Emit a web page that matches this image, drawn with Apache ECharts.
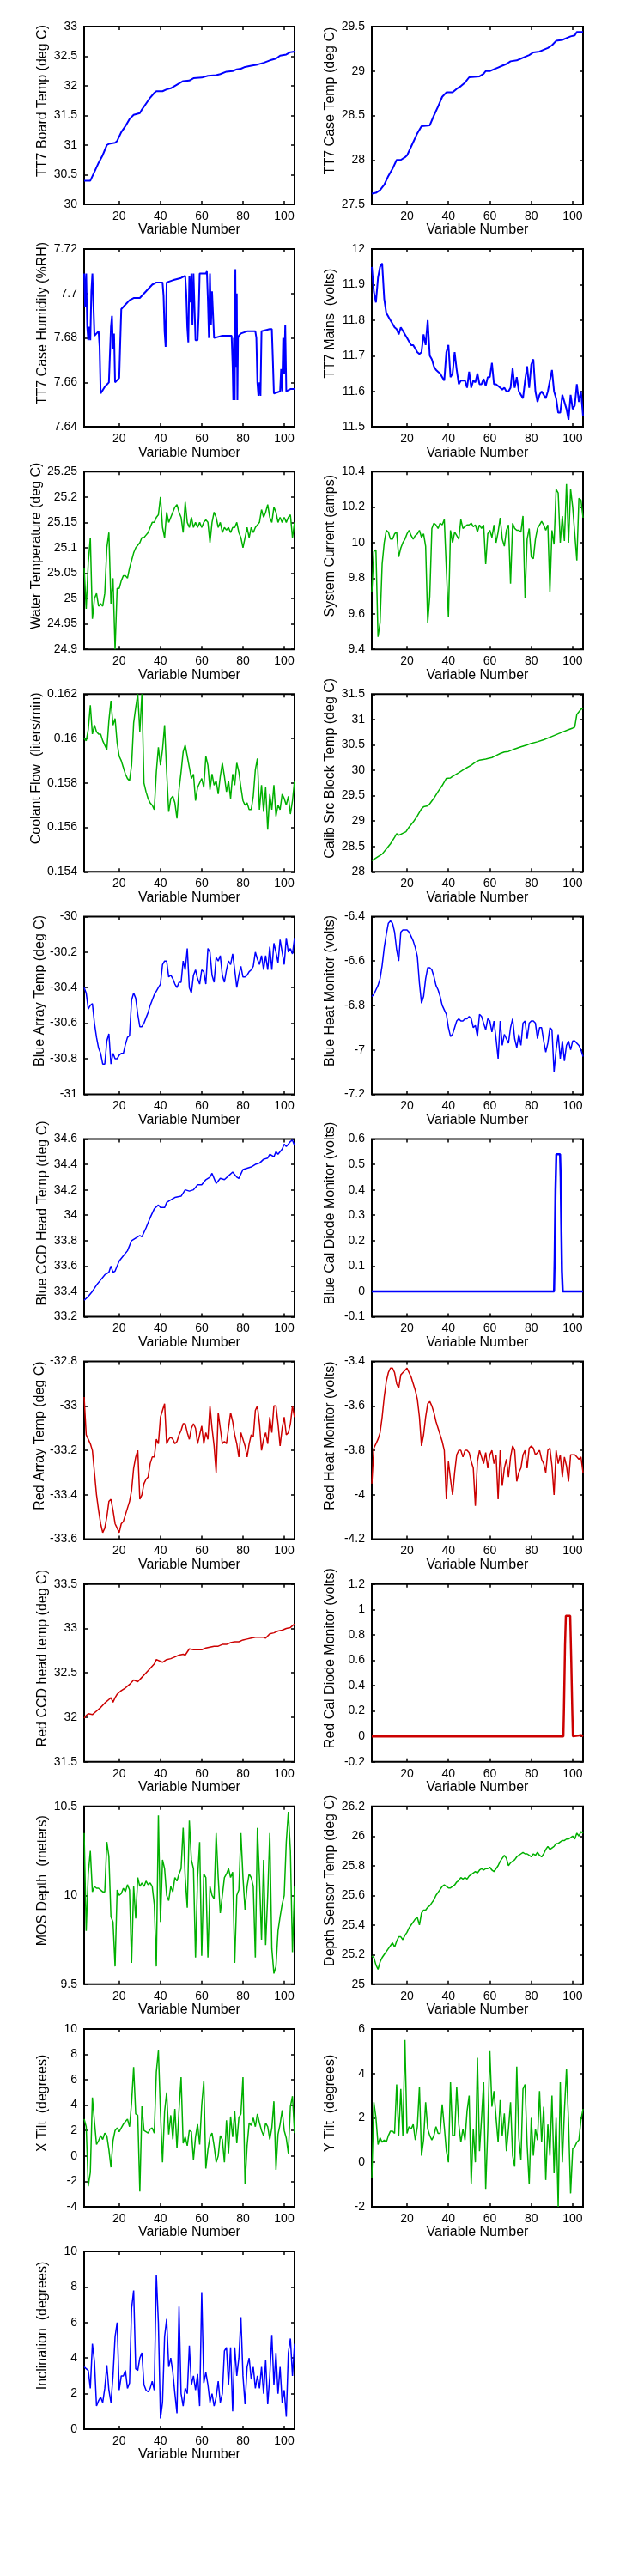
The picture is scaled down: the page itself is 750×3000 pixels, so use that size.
<!DOCTYPE html>
<html><head><meta charset="utf-8">
<script src="https://cdn.jsdelivr.net/npm/echarts@6/dist/echarts.min.js"></script>
<style>html,body{margin:0;padding:0;background:#fff}#c{width:750px;height:3000px}</style>
</head><body><div id="c"></div>
<script>
// ---------- shared ----------
const xTickValues = [20, 40, 60, 80, 100];
const stepX = Array.from({length: 103}, (_, i) => i + 3); // variable numbers 3..105

// ---------- data ----------
const boardTempX = [3,6,8,10,12,14,15,18,19,21,23,25,27,30,31,33,35,37,38,41,43,45,48,51,54,56,60,63,67,69,72,75,77,79,81,84,87,90,93,96,98,101,103,105];
const boardTempY = [30.4,30.4,30.55,30.7,30.83,31.0,31.02,31.04,31.07,31.22,31.32,31.44,31.51,31.54,31.6,31.7,31.8,31.88,31.91,31.91,31.94,31.96,32.02,32.08,32.09,32.13,32.14,32.17,32.18,32.2,32.24,32.25,32.28,32.29,32.32,32.34,32.36,32.39,32.43,32.46,32.51,32.53,32.57,32.58];

const caseTempX = [3,5,7,9,11,13,15,17,19,20,22,24,25,27,31,33,35,37,39,42,44,46,48,50,55,57,58,60,62,64,66,68,70,73,75,77,79,81,84,86,88,90,92,95,97,99,101,102,105];
const caseTempY = [27.62,27.63,27.66,27.72,27.82,27.9,28.0,28.0,28.03,28.05,28.15,28.25,28.3,28.38,28.39,28.5,28.6,28.71,28.76,28.76,28.8,28.83,28.87,28.93,28.94,28.97,29.0,29.0,29.02,29.04,29.06,29.08,29.11,29.12,29.14,29.16,29.18,29.21,29.22,29.24,29.26,29.29,29.34,29.35,29.37,29.39,29.4,29.44,29.44];

const humX = [3,3.5,4,4.5,5,5.5,6,6.5,7,7.5,8,9,10,10.5,11,13,15,15.5,16,16.5,17,17.5,18,20,20.5,21,23,25,27,30,33,36,38,41,41.5,42,42.5,43,46,50,52,52.5,53,53.5,54,54.5,55,55.5,56,57,58,58.5,59,62,62.5,63,63.5,64,64.5,65,66,70,74.5,75,75.3,75.6,76,76.3,76.6,77,77.3,77.6,78,79,82,86,86.5,87,87.5,88,88.5,89,93,94,94.5,95,98,98.5,99,99.5,100,100.5,101,103,105];
const humY = [7.709,7.694,7.709,7.685,7.679,7.685,7.679,7.701,7.709,7.695,7.681,7.682,7.683,7.676,7.655,7.658,7.66,7.66,7.685,7.69,7.675,7.682,7.66,7.662,7.678,7.693,7.695,7.697,7.698,7.698,7.701,7.704,7.705,7.705,7.699,7.683,7.676,7.705,7.706,7.707,7.708,7.7,7.685,7.678,7.708,7.696,7.709,7.686,7.709,7.679,7.679,7.69,7.709,7.709,7.71,7.697,7.68,7.709,7.686,7.701,7.68,7.681,7.681,7.667,7.652,7.68,7.652,7.711,7.667,7.7,7.652,7.68,7.681,7.682,7.683,7.683,7.68,7.66,7.654,7.66,7.654,7.683,7.684,7.684,7.67,7.655,7.656,7.666,7.656,7.68,7.664,7.686,7.656,7.657,7.657];

const mainsY = [11.95,11.88,11.85,11.92,11.95,11.96,11.86,11.82,11.81,11.8,
 11.79,11.78,11.775,11.76,11.78,11.77,11.76,11.75,11.74,11.73,
 11.73,11.72,11.71,11.705,11.71,11.76,11.73,11.80,11.70,11.69,
 11.67,11.66,11.655,11.65,11.64,11.63,11.71,11.73,11.64,11.65,
 11.71,11.66,11.62,11.63,11.63,11.63,11.61,11.655,11.61,11.63,
 11.625,11.65,11.62,11.62,11.635,11.615,11.64,11.64,11.68,11.62,
 11.62,11.615,11.61,11.605,11.61,11.6,11.6,11.61,11.665,11.61,
 11.64,11.6,11.59,11.58,11.63,11.67,11.61,11.675,11.69,11.6,
 11.57,11.59,11.6,11.59,11.58,11.6,11.63,11.66,11.6,11.58,
 11.54,11.54,11.59,11.57,11.55,11.52,11.59,11.55,11.56,11.62,
 11.57,11.6,11.53];

const waterY = [25.06,24.98,25.07,25.12,24.96,25.0,25.01,24.985,24.99,24.985,
 25.01,25.1,25.13,24.99,25.04,24.9,25.02,25.02,25.035,25.045,
 25.045,25.04,25.06,25.075,25.09,25.1,25.105,25.11,25.12,25.12,
 25.125,25.13,25.14,25.15,25.15,25.16,25.165,25.2,25.14,25.12,
 25.17,25.15,25.16,25.17,25.18,25.185,25.17,25.16,25.13,25.19,
 25.15,25.14,25.16,25.14,25.15,25.14,25.15,25.14,25.15,25.155,
 25.15,25.11,25.15,25.17,25.16,25.14,25.15,25.13,25.14,25.135,
 25.14,25.13,25.14,25.14,25.15,25.13,25.12,25.1,25.12,25.14,
 25.12,25.14,25.13,25.14,25.145,25.15,25.175,25.16,25.17,25.185,
 25.16,25.15,25.18,25.17,25.15,25.16,25.15,25.16,25.15,25.16,
 25.165,25.12,25.15];

const currentY = [9.72,9.95,9.96,9.47,9.55,9.88,10.0,10.07,10.06,10.02,
 10.02,10.05,10.06,9.92,9.97,10.0,10.02,10.05,10.07,10.04,
 10.02,10.04,10.05,10.07,10.03,10.05,9.98,9.55,9.7,10.08,
 10.11,10.1,10.08,10.11,10.1,10.13,9.85,9.58,10.07,10.0,
 10.06,10.04,10.02,10.13,10.08,10.09,10.1,10.1,10.11,10.09,
 10.1,10.06,10.1,10.08,10.1,9.88,10.05,10.07,10.03,10.1,
 10.0,10.06,10.14,10.02,9.98,10.07,10.1,9.77,10.11,10.08,
 10.07,10.07,10.06,10.15,9.69,10.02,10.08,9.92,9.91,10.02,
 10.08,10.1,10.12,10.1,10.07,10.1,9.72,10.07,9.99,10.3,
 10.28,10.0,10.15,10.01,10.33,10.0,10.3,10.2,10.05,9.9,
 10.25,10.24,10.14];

const coolantY = [0.16,0.1599,0.1604,0.1615,0.1602,0.1606,0.1603,0.1602,0.1602,0.1599,
 0.1597,0.1595,0.1608,0.1617,0.1606,0.1609,0.1598,0.1592,0.159,0.1587,
 0.1584,0.1582,0.1581,0.1588,0.1607,0.1614,0.162,0.1603,0.162,0.158,
 0.1576,0.1573,0.1571,0.157,0.1568,0.1585,0.1596,0.1588,0.1595,0.1606,
 0.1585,0.1567,0.1573,0.1574,0.1571,0.1564,0.1577,0.1585,0.1594,0.1597,
 0.1592,0.1587,0.1582,0.1584,0.1572,0.1578,0.158,0.1582,0.1578,0.1592,
 0.1588,0.1577,0.1584,0.1579,0.1581,0.1575,0.1583,0.1589,0.1583,0.1576,
 0.1581,0.1573,0.1584,0.1579,0.1589,0.1585,0.1578,0.1572,0.157,0.1571,
 0.1568,0.1568,0.1574,0.1586,0.1591,0.1568,0.1579,0.1567,0.1578,0.1559,
 0.1575,0.1568,0.1579,0.1565,0.157,0.1568,0.1575,0.1573,0.157,0.1574,
 0.1566,0.1572,0.1581];

const calibX = [3,6,8,10,12,14,15,16,18,19.5,21,23,25,27,28,30,31,33,35,37,39,41,42,45,48,51,53,55,58,61,63,65,67,69,72,75,78,80,83,86,89,92,95,98,100,101,102,103,104,105];
const calibY = [28.22,28.3,28.35,28.45,28.55,28.68,28.75,28.72,28.76,28.79,28.88,28.98,29.1,29.24,29.28,29.3,29.34,29.45,29.58,29.7,29.84,29.85,29.88,29.95,30.03,30.1,30.16,30.2,30.22,30.25,30.29,30.33,30.36,30.37,30.42,30.46,30.5,30.53,30.56,30.6,30.65,30.7,30.75,30.8,30.83,30.85,31.1,31.15,31.2,31.22];

const blueArrayY = [-30.4,-30.43,-30.52,-30.5,-30.49,-30.6,-30.68,-30.74,-30.77,-30.83,
 -30.83,-30.7,-30.66,-30.83,-30.77,-30.8,-30.8,-30.78,-30.77,-30.77,
 -30.72,-30.68,-30.67,-30.47,-30.43,-30.46,-30.55,-30.62,-30.62,-30.6,
 -30.57,-30.54,-30.5,-30.47,-30.44,-30.42,-30.4,-30.38,-30.27,-30.25,
 -30.25,-30.34,-30.33,-30.35,-30.38,-30.4,-30.37,-30.37,-30.25,-30.3,
 -30.18,-30.4,-30.43,-30.33,-30.3,-30.35,-30.38,-30.3,-30.31,-30.38,
 -30.18,-30.2,-30.33,-30.37,-30.23,-30.25,-30.22,-30.33,-30.37,-30.3,
 -30.25,-30.27,-30.21,-30.3,-30.4,-30.33,-30.28,-30.34,-30.34,-30.33,
 -30.31,-30.3,-30.28,-30.2,-30.24,-30.27,-30.22,-30.3,-30.22,-30.3,
 -30.17,-30.3,-30.15,-30.2,-30.26,-30.13,-30.2,-30.27,-30.12,-30.2,
 -30.18,-30.21,-30.12];

const blueHeatY = [-6.76,-6.75,-6.73,-6.71,-6.68,-6.62,-6.54,-6.48,-6.43,-6.42,
 -6.43,-6.47,-6.55,-6.6,-6.47,-6.46,-6.46,-6.46,-6.47,-6.49,
 -6.51,-6.54,-6.58,-6.7,-6.79,-6.76,-6.68,-6.63,-6.63,-6.64,
 -6.67,-6.71,-6.73,-6.76,-6.8,-6.82,-6.84,-6.9,-6.94,-6.93,
 -6.9,-6.87,-6.86,-6.87,-6.87,-6.86,-6.86,-6.85,-6.86,-6.9,
 -6.89,-6.94,-6.84,-6.85,-6.88,-6.91,-6.86,-6.87,-6.92,-6.87,
 -6.95,-7.04,-6.87,-6.98,-6.93,-6.95,-6.97,-6.9,-6.86,-6.95,
 -6.99,-6.93,-6.98,-6.88,-6.87,-6.95,-6.88,-6.87,-6.87,-6.88,
 -6.95,-6.9,-6.9,-6.96,-7.01,-6.97,-6.9,-6.91,-7.1,-7.0,
 -6.93,-7.04,-6.96,-7.05,-6.98,-6.96,-7.0,-6.96,-6.96,-6.97,
 -6.98,-7.0,-7.03];

const blueCcdX = [3,5,7,9,11,13,15,16,17,18,20,22,24,26,28,30,31,33,35,37,39,40,42,43,45,47,50,52,54,56,58,60,62,64,65,67,69,71,73,75,77,78,80,82,84,86,88,90,92,93,95,96,97,99,100,101,103,104,105];
const blueCcdY = [33.33,33.36,33.4,33.45,33.49,33.53,33.55,33.6,33.55,33.56,33.64,33.68,33.72,33.8,33.82,33.84,33.83,33.9,33.98,34.05,34.08,34.06,34.06,34.1,34.12,34.14,34.15,34.2,34.19,34.2,34.24,34.24,34.28,34.3,34.33,34.25,34.29,34.28,34.31,34.34,34.3,34.29,34.36,34.37,34.38,34.4,34.41,34.44,34.45,34.48,34.46,34.5,34.48,34.52,34.56,34.54,34.58,34.59,34.55];

const blueCalX = [3,15.5,16,16.5,39,39.5,40,91,91.3,91.7,92.1,93.9,94.2,94.5,94.8,95.2,105];
const blueCalY = [0,0,0.004,0,0,0.004,0,0,0.13,0.4,0.54,0.54,0.45,0.26,0.08,0,0];

const redArrayY = [-32.96,-33.13,-33.15,-33.17,-33.2,-33.3,-33.4,-33.47,-33.53,-33.57,
 -33.55,-33.5,-33.43,-33.42,-33.47,-33.53,-33.55,-33.57,-33.53,-33.52,
 -33.49,-33.46,-33.43,-33.38,-33.28,-33.23,-33.2,-33.42,-33.4,-33.35,
 -33.33,-33.32,-33.26,-33.23,-33.23,-33.15,-33.17,-33.05,-33.02,-32.99,
 -33.17,-33.15,-33.14,-33.15,-33.17,-33.16,-33.13,-33.11,-33.08,-33.08,
 -33.12,-33.15,-33.1,-33.08,-33.1,-33.17,-33.13,-33.09,-33.17,-33.12,
 -33.15,-33.0,-33.1,-33.18,-33.3,-33.03,-33.1,-33.17,-33.16,-33.17,
 -33.1,-33.03,-33.07,-33.13,-33.17,-33.23,-33.12,-33.15,-33.18,-33.23,
 -33.17,-33.13,-33.14,-33.02,-33.0,-33.08,-33.2,-33.15,-33.12,-33.17,
 -33.05,-33.12,-33.0,-33.0,-33.08,-33.18,-33.1,-33.05,-33.13,-33.12,
 -33.08,-33.0,-33.05];

const redHeatY = [-3.95,-3.79,-3.77,-3.75,-3.72,-3.65,-3.56,-3.49,-3.45,-3.43,
 -3.43,-3.45,-3.5,-3.52,-3.46,-3.45,-3.44,-3.43,-3.45,-3.47,
 -3.5,-3.53,-3.57,-3.65,-3.78,-3.73,-3.65,-3.59,-3.58,-3.6,
 -3.63,-3.67,-3.7,-3.73,-3.76,-3.8,-4.02,-3.85,-3.93,-4.0,
 -3.9,-3.82,-3.8,-3.8,-3.83,-3.8,-3.8,-3.81,-3.85,-3.88,
 -4.05,-3.85,-3.8,-3.83,-3.86,-3.81,-3.88,-3.82,-3.8,-3.86,
 -3.82,-4.02,-3.8,-3.96,-3.88,-3.84,-3.92,-3.83,-3.78,-3.8,
 -3.94,-3.9,-3.88,-3.82,-3.8,-3.88,-3.79,-3.78,-3.79,-3.82,
 -3.81,-3.8,-3.84,-3.86,-3.9,-3.8,-3.79,-3.87,-4.0,-3.8,
 -3.86,-3.82,-3.92,-3.83,-3.87,-3.94,-3.82,-3.82,-3.82,-3.83,
 -3.84,-3.83,-3.9];

const redCcdX = [3,4,5,7,9,11,13,15,16,17,18,19,21,23,25,27,29,31,33,35,37,38,40,41,43,45,47,49,51,52,54,56,58,60,62,64,66,68,70,72,74,76,78,80,82,84,86,88,90,91,93,95,97,99,101,103,105];
const redCcdY = [31.99,32.02,32.04,32.03,32.07,32.11,32.16,32.2,32.22,32.17,32.22,32.26,32.3,32.33,32.37,32.42,32.4,32.45,32.5,32.55,32.6,32.65,32.63,32.62,32.65,32.66,32.68,32.7,32.71,32.7,32.77,32.76,32.76,32.76,32.78,32.79,32.8,32.8,32.82,32.82,32.84,32.85,32.85,32.87,32.88,32.89,32.9,32.9,32.9,32.89,32.94,32.95,32.97,32.98,33.0,33.01,33.05];

const redCalX = [3,95.5,95.8,96.3,96.7,98.8,99.3,99.8,100.1,100.5,104,105];
const redCalY = [0,0,0.23,0.72,0.95,0.95,0.6,0.2,0,0.01,0.01,0];

const mosY = [10.35,9.8,10.12,10.25,10.02,10.05,10.04,10.04,10.03,10.02,
 10.02,10.3,10.22,9.88,9.85,9.6,10.03,10.0,10.01,10.04,
 10.02,10.06,10.03,9.62,10.05,9.87,10.1,10.05,10.07,10.05,
 10.08,10.06,10.07,10.05,9.95,9.6,10.45,9.85,10.2,10.15,
 10.0,9.97,10.05,10.02,10.1,10.08,10.12,10.15,10.38,10.1,
 9.93,10.42,10.2,10.15,9.65,10.1,10.3,9.66,10.12,10.1,
 9.65,10.05,10.0,9.98,10.35,10.1,9.9,10.0,10.1,10.12,
 10.15,10.1,10.13,9.62,10.0,10.03,10.35,10.1,9.92,10.05,
 10.12,10.1,10.05,9.65,10.38,10.1,9.75,10.2,9.72,10.0,
 10.35,9.7,9.56,9.6,9.8,9.88,9.95,10.0,10.3,10.47,
 10.25,9.68,10.05];

const depthTempY = [25.19,25.18,25.13,25.1,25.15,25.18,25.2,25.22,25.24,25.26,
 25.28,25.25,25.29,25.32,25.32,25.3,25.33,25.35,25.38,25.4,
 25.42,25.44,25.45,25.4,25.48,25.5,25.5,25.52,25.53,25.55,
 25.57,25.6,25.62,25.64,25.66,25.67,25.66,25.65,25.65,25.66,
 25.67,25.69,25.7,25.72,25.71,25.72,25.71,25.73,25.74,25.75,
 25.76,25.75,25.77,25.78,25.77,25.78,25.78,25.79,25.77,25.76,
 25.78,25.8,25.83,25.85,25.87,25.85,25.8,25.82,25.83,25.84,
 25.86,25.87,25.88,25.89,25.88,25.88,25.87,25.86,25.88,25.87,
 25.89,25.87,25.86,25.88,25.91,25.93,25.91,25.92,25.93,25.95,
 25.95,25.96,25.97,25.97,25.98,25.98,25.99,26.0,25.98,26.02,
 26.0,26.03,26.02];

const xTiltY = [2.9,2.3,-2.4,-1.3,4.6,2.7,0.9,1.2,1.6,1.3,
 1.8,1.6,0.5,-0.9,1.2,2.0,2.2,1.9,2.2,2.5,
 2.7,2.9,2.3,4.2,7.0,3.3,3.2,-2.8,3.9,2.0,
 1.9,1.8,2.1,2.2,1.8,6.6,8.3,3.4,-0.5,3.5,
 5.0,1.7,3.2,1.3,3.7,0.6,3.6,6.2,1.0,1.5,
 0.8,2.0,1.9,-0.3,1.5,2.5,0.9,4.0,5.9,-1.0,
 0.5,1.5,1.8,0.8,-0.5,0.0,1.6,1.3,-0.5,2.8,
 0.2,3.1,1.5,3.5,1.0,3.0,3.3,6.2,-2.2,0.8,
 2.6,2.4,3.0,2.3,3.3,2.6,2.0,1.6,2.6,2.3,
 1.3,2.2,4.3,-1.1,1.7,2.5,3.6,2.0,1.4,0.2,
 3.9,4.7,1.8];

const yTiltY = [-0.7,2.7,2.0,0.8,1.1,0.9,1.0,0.9,1.2,1.4,
 1.4,1.3,3.5,1.2,3.3,1.2,5.5,1.3,1.6,1.5,
 1.7,1.0,1.6,3.4,0.3,1.0,2.7,1.5,1.2,1.0,
 1.2,1.6,1.3,1.3,2.6,1.6,0.5,0.0,3.6,1.2,
 1.2,3.4,1.7,0.9,1.5,1.0,2.3,3.0,-1.0,1.5,
 0.0,4.7,0.5,2.0,3.6,-1.2,1.5,5.0,2.5,3.2,
 2.0,0.9,2.8,1.2,2.2,0.5,1.5,2.7,0.3,-0.2,
 4.3,1.1,0.1,3.3,3.5,0.8,-1.0,2.0,0.3,1.5,
 1.0,3.2,0.9,2.5,-0.8,1.7,0.3,3.0,-0.5,2.0,
 -2.0,3.6,0.0,2.3,4.2,1.8,-1.4,0.6,0.7,0.9,
 1.0,1.9,2.4];

const inclinationY = [3.5,3.4,3.3,2.3,4.8,3.8,1.3,1.6,1.8,1.5,
 2.3,3.6,2.2,1.5,3.0,5.2,6.0,2.2,3.0,3.0,
 3.3,2.3,2.6,6.8,7.8,3.4,3.3,4.0,4.3,2.5,
 2.2,2.1,2.3,2.7,2.2,8.7,6.0,0.6,1.5,5.2,
 6.2,3.5,4.0,3.2,2.0,0.9,6.9,2.0,1.3,2.3,
 2.0,4.7,2.5,3.0,2.2,3.1,1.3,7.7,2.6,3.2,
 2.5,1.5,2.0,1.3,1.8,2.7,1.5,2.0,4.4,4.6,
 2.5,4.6,1.0,4.6,3.0,4.0,6.3,3.0,1.4,3.5,
 4.0,2.8,3.5,2.3,3.0,2.3,3.5,2.0,3.9,1.4,
 3.0,5.3,2.5,4.3,2.0,3.5,1.5,2.2,0.7,4.3,
 5.1,3.0,4.8];

// ---------- panel definitions ----------
const BLUE = '#0000ff', GREEN = '#00b000', RED = '#cc0000';
const panels = [
 {name:'TT7 Board Temp (deg C)', x:boardTempX, y:boardTempY, min:30, max:33, step:0.5, color:BLUE, lw:2},
 {name:'TT7 Case Temp (deg C)', x:caseTempX, y:caseTempY, min:27.5, max:29.5, step:0.5, color:BLUE, lw:2},
 {name:'TT7 Case Humidity (%RH)', x:humX, y:humY, min:7.64, max:7.72, step:0.02, color:BLUE, lw:2},
 {name:'TT7 Mains  (volts)', x:stepX, y:mainsY, min:11.5, max:12, step:0.1, color:BLUE, lw:2},
 {name:'Water Temperature (deg C)', x:stepX, y:waterY, min:24.9, max:25.25, step:0.05, color:GREEN, lw:1.5},
 {name:'System Current (amps)', x:stepX, y:currentY, min:9.4, max:10.4, step:0.2, color:GREEN, lw:1.5},
 {name:'Coolant Flow  (liters/min)', x:stepX, y:coolantY, min:0.154, max:0.162, step:0.002, color:GREEN, lw:1.5},
 {name:'Calib Src Block Temp (deg C)', x:calibX, y:calibY, min:28, max:31.5, step:0.5, color:GREEN, lw:1.5},
 {name:'Blue Array Temp (deg C)', x:stepX, y:blueArrayY, min:-31, max:-30, step:0.2, color:BLUE, lw:1.5},
 {name:'Blue Heat Monitor (volts)', x:stepX, y:blueHeatY, min:-7.2, max:-6.4, step:0.2, color:BLUE, lw:1.5},
 {name:'Blue CCD Head Temp (deg C)', x:blueCcdX, y:blueCcdY, min:33.2, max:34.6, step:0.2, color:BLUE, lw:1.5},
 {name:'Blue Cal Diode Monitor (volts)', x:blueCalX, y:blueCalY, min:-0.1, max:0.6, step:0.1, color:BLUE, lw:2.5},
 {name:'Red Array Temp (deg C)', x:stepX, y:redArrayY, min:-33.6, max:-32.8, step:0.2, color:RED, lw:1.5},
 {name:'Red Heat Monitor (volts)', x:stepX, y:redHeatY, min:-4.2, max:-3.4, step:0.2, color:RED, lw:1.5},
 {name:'Red CCD head temp (deg C)', x:redCcdX, y:redCcdY, min:31.5, max:33.5, step:0.5, color:RED, lw:1.5},
 {name:'Red Cal Diode Monitor (volts)', x:redCalX, y:redCalY, min:-0.2, max:1.2, step:0.2, color:RED, lw:2.5},
 {name:'MOS Depth  (meters)', x:stepX, y:mosY, min:9.5, max:10.5, step:0.5, color:GREEN, lw:1.5},
 {name:'Depth Sensor Temp (deg C)', x:stepX, y:depthTempY, min:25, max:26.2, step:0.2, color:GREEN, lw:1.5},
 {name:'X Tilt  (degrees)', x:stepX, y:xTiltY, min:-4, max:10, step:2, color:GREEN, lw:1.5},
 {name:'Y Tilt  (degrees)', x:stepX, y:yTiltY, min:-2, max:6, step:2, color:GREEN, lw:1.5},
 {name:'Inclination  (degrees)', x:stepX, y:inclinationY, min:0, max:10, step:2, color:BLUE, lw:1.5}
];

// ---------- build option ----------
const tickFont = {fontFamily:"'Liberation Sans Narrow','Liberation Sans',Arial,sans-serif", fontSize:14, color:'#000'};
const nameFont = {fontFamily:"'Liberation Sans',Arial,sans-serif", fontSize:16, color:'#000'};
const tickLine = {color:'#000', width:1.5};
const option = {animation:false, backgroundColor:'#fff', grid:[], xAxis:[], yAxis:[], series:[]};

panels.forEach((p, i) => {
  const row = Math.floor(i / 2), col = i % 2;
  option.grid.push({left: col ? 433 : 98, top: 31 + row * 259.1, width: col ? 246 : 245, height: 207,
    show: true, borderColor: '#000', borderWidth: 2, backgroundColor: 'transparent'});
  // bottom x-axis
  option.xAxis.push({type:'value', gridIndex:i, min:3, max:105, position:'bottom',
    name:'Variable Number', nameLocation:'middle', nameGap:22, nameTextStyle:nameFont,
    axisLine:{show:false, onZero:false}, splitLine:{show:false},
    axisTick:{inside:true, length:4, lineStyle:tickLine, customValues:xTickValues},
    axisLabel:Object.assign({margin:7, customValues:xTickValues}, tickFont)});
  // top mirror
  option.xAxis.push({type:'value', gridIndex:i, min:3, max:105, position:'top',
    axisLine:{show:false, onZero:false}, splitLine:{show:false}, axisLabel:{show:false},
    axisTick:{inside:true, length:4, lineStyle:tickLine, customValues:xTickValues}});
  // left y-axis
  option.yAxis.push({type:'value', gridIndex:i, min:p.min, max:p.max, interval:p.step, position:'left',
    name:p.name, nameLocation:'middle', nameRotate:90, nameGap:40,
    nameTextStyle:Object.assign({padding:[0,0,0,34]}, nameFont),
    axisLine:{show:false, onZero:false}, splitLine:{show:false},
    axisTick:{inside:true, length:4, lineStyle:tickLine},
    axisLabel:Object.assign({margin:8}, tickFont)});
  // right mirror
  option.yAxis.push({type:'value', gridIndex:i, min:p.min, max:p.max, interval:p.step, position:'right',
    axisLine:{show:false, onZero:false}, splitLine:{show:false}, axisLabel:{show:false},
    axisTick:{inside:true, length:4, lineStyle:tickLine}});
  option.series.push({type:'line', xAxisIndex:2*i, yAxisIndex:2*i, showSymbol:false, symbol:'none',
    data:p.x.map((xv, k) => [xv, p.y[k]]), lineStyle:{color:p.color, width:p.lw}, itemStyle:{color:p.color}, z:3});
});

const chart = echarts.init(document.getElementById('c'), null, {renderer:'canvas', width:750, height:3000});
chart.setOption(option);
</script>
</body></html>
